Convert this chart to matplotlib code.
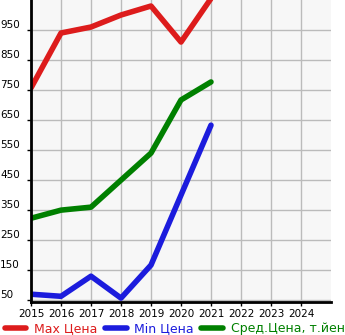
import matplotlib
matplotlib.use('Agg')
import matplotlib.pyplot as plt

years = [2015, 2016, 2017, 2018, 2019, 2020, 2021]
max_price = [757, 940, 960, 1000, 1030, 910, 1055]
min_price = [70, 63, 130, 57, 167, 400, 633]
avg_price = [323, 350, 360, 450, 540, 717, 777]

x_ticks = list(range(2015, 2025))
y_ticks = [50, 150, 250, 350, 450, 550, 650, 750, 850, 950]

labels = ['Max Цена', 'Min Цена', 'Сред.Цена, т.йен']
colors = ['#dd1c1c', '#1c1cdd', '#008000']

fig = plt.figure(figsize=(3.45, 3.35), dpi=100)
ax = fig.add_axes([31 / 345, 33 / 335, 300 / 345, 302 / 335])
ax.set_facecolor('#f7f7f7')

for vals, c, lab in zip([max_price, min_price, avg_price], colors, labels):
    ax.plot(years, vals, color=c, linewidth=4, label=lab, solid_capstyle='round', solid_joinstyle='round')

ax.set_xlim(2015, 2025)
ax.set_ylim(44, 1050)
ax.set_xticks(x_ticks)
ax.set_yticks(y_ticks)
ax.grid(True, color='#bbbbbb', linewidth=1)
ax.set_axisbelow(True)

for s in ['top', 'right']:
    ax.spines[s].set_visible(False)
ax.spines['left'].set_linewidth(2)
ax.spines['bottom'].set_linewidth(2)

ax.tick_params(axis='x', labelsize=7.5, length=3, width=1, pad=2)
# labels sit left-aligned at the figure edge, on top of their grid line
ax.tick_params(axis='y', labelsize=7.5, length=3, width=1, pad=19.3)
for t in ax.get_yticklabels():
    t.set_verticalalignment('bottom')
    t.set_horizontalalignment('left')

leg = fig.legend(loc='lower left', bbox_to_anchor=(-0.005, -0.02), ncol=3, frameon=False,
                 fontsize=9, handlelength=1.75, handletextpad=0.6, columnspacing=0.6,
                 labelcolor=colors, borderaxespad=0.1)

plt.savefig('out.png', dpi=100)
